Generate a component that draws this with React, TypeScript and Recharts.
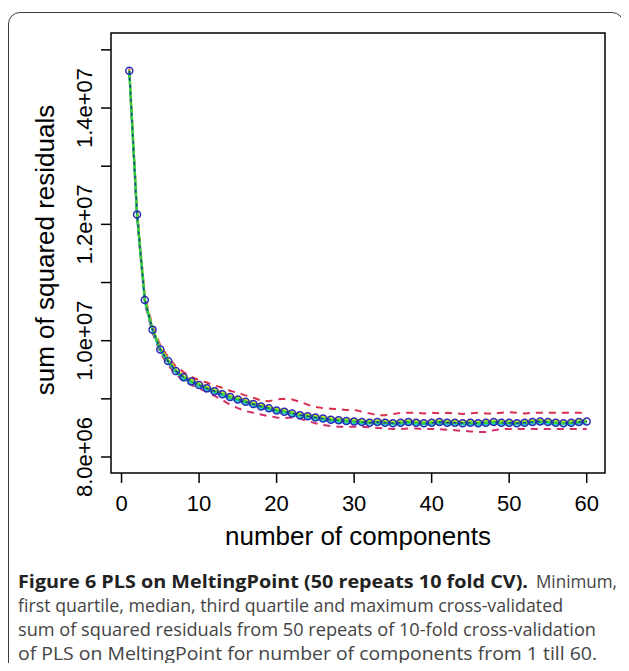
import { LineChart, Line, XAxis, YAxis, ReferenceArea, Label } from "recharts";

// number of PLS components
const components = [
  1, 2, 3, 4, 5, 6, 7, 8, 9, 10, 11, 12, 13, 14, 15, 16, 17, 18, 19, 20,
  21, 22, 23, 24, 25, 26, 27, 28, 29, 30, 31, 32, 33, 34, 35, 36, 37, 38, 39, 40,
  41, 42, 43, 44, 45, 46, 47, 48, 49, 50, 51, 52, 53, 54, 55, 56, 57, 58, 59, 60,
];

// cross-validated sum of squared residuals
const minimum = [
  14.6e6, 12.1e6, 10.64e6, 10.13e6, 9.79e6, 9.58e6, 9.42e6, 9.31e6, 9.24e6, 9.18e6,
  9.12e6, 9.05e6, 8.98e6, 8.9e6, 8.84e6, 8.79e6, 8.76e6, 8.73e6, 8.7e6, 8.68e6,
  8.67e6, 8.68e6, 8.66e6, 8.62e6, 8.58e6, 8.55e6, 8.53e6, 8.52e6, 8.52e6, 8.52e6,
  8.52e6, 8.51e6, 8.5e6, 8.49e6, 8.48e6, 8.48e6, 8.49e6, 8.49e6, 8.48e6, 8.48e6,
  8.48e6, 8.47e6, 8.46e6, 8.45e6, 8.44e6, 8.43e6, 8.43e6, 8.46e6, 8.48e6, 8.48e6,
  8.48e6, 8.48e6, 8.48e6, 8.48e6, 8.48e6, 8.48e6, 8.48e6, 8.48e6, 8.48e6, 8.48e6,
];
const firstQuartile = [
  14.62e6, 12.14e6, 10.67e6, 10.16e6, 9.82e6, 9.62e6, 9.45e6, 9.34e6, 9.27e6, 9.21e6,
  9.15e6, 9.1e6, 9.05e6, 9.0e6, 8.96e6, 8.92e6, 8.88e6, 8.84e6, 8.81e6, 8.77e6,
  8.75e6, 8.72e6, 8.69e6, 8.67e6, 8.65e6, 8.63e6, 8.61e6, 8.6e6, 8.59e6, 8.58e6,
  8.57e6, 8.57e6, 8.57e6, 8.56e6, 8.56e6, 8.56e6, 8.57e6, 8.56e6, 8.56e6, 8.56e6,
  8.57e6, 8.56e6, 8.56e6, 8.56e6, 8.56e6, 8.55e6, 8.56e6, 8.57e6, 8.56e6, 8.56e6,
  8.56e6, 8.56e6, 8.57e6, 8.58e6, 8.57e6, 8.56e6, 8.56e6, 8.56e6, 8.57e6, 8.58e6,
];
const median = [
  14.64e6, 12.17e6, 10.7e6, 10.19e6, 9.85e6, 9.65e6, 9.48e6, 9.37e6, 9.3e6, 9.24e6,
  9.18e6, 9.13e6, 9.08e6, 9.03e6, 8.99e6, 8.95e6, 8.91e6, 8.87e6, 8.84e6, 8.8e6,
  8.78e6, 8.75e6, 8.72e6, 8.7e6, 8.68e6, 8.66e6, 8.64e6, 8.63e6, 8.62e6, 8.61e6,
  8.6e6, 8.59e6, 8.6e6, 8.59e6, 8.58e6, 8.59e6, 8.6e6, 8.59e6, 8.58e6, 8.59e6,
  8.6e6, 8.59e6, 8.59e6, 8.58e6, 8.59e6, 8.58e6, 8.59e6, 8.6e6, 8.59e6, 8.59e6,
  8.58e6, 8.59e6, 8.6e6, 8.61e6, 8.6e6, 8.59e6, 8.58e6, 8.59e6, 8.6e6, 8.61e6,
];
const thirdQuartile = [
  14.66e6, 12.2e6, 10.73e6, 10.22e6, 9.88e6, 9.68e6, 9.51e6, 9.4e6, 9.33e6, 9.27e6,
  9.21e6, 9.16e6, 9.11e6, 9.06e6, 9.02e6, 8.98e6, 8.94e6, 8.9e6, 8.87e6, 8.83e6,
  8.81e6, 8.78e6, 8.75e6, 8.73e6, 8.71e6, 8.69e6, 8.67e6, 8.66e6, 8.65e6, 8.64e6,
  8.63e6, 8.62e6, 8.63e6, 8.62e6, 8.61e6, 8.62e6, 8.63e6, 8.62e6, 8.61e6, 8.62e6,
  8.63e6, 8.62e6, 8.62e6, 8.61e6, 8.62e6, 8.61e6, 8.62e6, 8.63e6, 8.62e6, 8.62e6,
  8.61e6, 8.62e6, 8.63e6, 8.64e6, 8.63e6, 8.62e6, 8.61e6, 8.62e6, 8.63e6, 8.64e6,
];
const maximum = [
  14.68e6, 12.25e6, 10.76e6, 10.25e6, 9.92e6, 9.72e6, 9.56e6, 9.46e6, 9.38e6, 9.32e6,
  9.28e6, 9.23e6, 9.19e6, 9.14e6, 9.1e6, 9.06e6, 9.02e6, 8.97e6, 8.96e6, 8.99e6,
  9.0e6, 8.99e6, 8.95e6, 8.9e6, 8.86e6, 8.84e6, 8.83e6, 8.82e6, 8.81e6, 8.81e6,
  8.78e6, 8.75e6, 8.72e6, 8.72e6, 8.74e6, 8.76e6, 8.76e6, 8.76e6, 8.75e6, 8.76e6,
  8.75e6, 8.76e6, 8.75e6, 8.74e6, 8.75e6, 8.76e6, 8.75e6, 8.75e6, 8.76e6, 8.77e6,
  8.76e6, 8.75e6, 8.76e6, 8.76e6, 8.76e6, 8.76e6, 8.76e6, 8.76e6, 8.76e6, 8.76e6,
];

const xTicks = [0, 10, 20, 30, 40, 50, 60];
const yTicks = [8e6, 9e6, 10e6, 11e6, 12e6, 13e6, 14e6, 15e6];
const yLabelled = [8e6, 10e6, 12e6, 14e6];

const data = components.map((n, i) => ({
  n,
  min: minimum[i],
  q1: firstQuartile[i],
  med: median[i],
  q3: thirdQuartile[i],
  max: maximum[i],
}));

const rFont = "'Liberation Sans', Arial, sans-serif";
const capFont = "'Open Sans', sans-serif";

const sci = (v: number) => {
  const e = Math.floor(Math.log10(v) + 1e-9);
  const m = v / Math.pow(10, e);
  return `${m.toFixed(1)}e+${String(e).padStart(2, "0")}`;
};

const XTick = ({ x, y, payload }: any) => (
  <text x={x} y={y + 26} textAnchor="middle" fontSize={22} fontFamily={rFont} fill="#000">
    {payload.value}
  </text>
);

const YTick = ({ y, payload }: any) => {
  if (!yLabelled.includes(payload.value)) return null;
  const cx = 92;
  return (
    <text
      x={cx}
      y={y}
      transform={`rotate(-90, ${cx}, ${y})`}
      textAnchor="middle"
      fontSize={22}
      fontFamily={rFont}
      fill="#000"
    >
      {sci(payload.value)}
    </text>
  );
};

const caption = [
  "first quartile, median, third quartile and maximum cross-validated",
  "sum of squared residuals from 50 repeats of 10-fold cross-validation",
  "of PLS on MeltingPoint for number of components from 1 till 60.",
];
const captionWidths = [545, 578, 579];

export default function App() {
  return (
    <div style={{ position: "relative", width: 629, height: 671, margin: -8, overflow: "hidden", background: "#fff" }}>
      <div
        style={{
          position: "absolute",
          left: 8,
          top: 12,
          width: 614,
          height: 700,
          border: "1.5px solid #3a3a3a",
          borderRadius: 12,
        }}
      />
      <div style={{ position: "absolute", left: 0, top: 0 }}>
        <LineChart width={629} height={560} data={data} margin={{ top: 33, right: 24, bottom: 0, left: 0 }}>
          <XAxis
            type="number"
            dataKey="n"
            domain={[-1.36, 62.36]}
            ticks={xTicks}
            allowDataOverflow
            axisLine={false}
            tickSize={10}
            tickLine={{ stroke: "#000", strokeWidth: 1.5 }}
            tick={<XTick />}
            height={87}
          >
            <Label
              content={() => (
                <text x={358} y={545} textAnchor="middle" fontSize={26} fontFamily={rFont} fill="#000">
                  number of components
                </text>
              )}
            />
          </XAxis>
          <YAxis
            type="number"
            domain={[7.725e6, 15.29e6]}
            ticks={yTicks}
            allowDataOverflow
            axisLine={false}
            tickSize={10}
            tickLine={{ stroke: "#000", strokeWidth: 1.5 }}
            tick={<YTick />}
            width={111}
          >
            <Label
              content={() => (
                <text
                  x={54}
                  y={250}
                  transform="rotate(-90, 54, 250)"
                  textAnchor="middle"
                  fontSize={26}
                  fontFamily={rFont}
                  fill="#000"
                >
                  sum of squared residuals
                </text>
              )}
            />
          </YAxis>
          <ReferenceArea
            x1={-1.36}
            x2={62.36}
            y1={7.725e6}
            y2={15.29e6}
            fill="none"
            stroke="#000"
            strokeWidth={1.5}
            ifOverflow="visible"
          />
          <Line dataKey="max" stroke="#d8304c" strokeWidth={2} strokeDasharray="7 6" dot={false} isAnimationActive={false} />
          <Line dataKey="min" stroke="#d0306a" strokeWidth={2} strokeDasharray="7 6" dot={false} isAnimationActive={false} />
          <Line dataKey="q3" stroke="#c8e820" strokeWidth={2} dot={false} isAnimationActive={false} />
          <Line dataKey="q1" stroke="#18c8d8" strokeWidth={2} dot={false} isAnimationActive={false} />
          <Line dataKey="med" stroke="#38d038" strokeWidth={2.5} dot={false} isAnimationActive={false} />
          <Line
            dataKey="med"
            stroke="#1c3c9c"
            strokeWidth={1.5}
            strokeDasharray="3 4"
            dot={{ r: 3.5, stroke: "#2a2ab8", strokeWidth: 1.5, fill: "none", strokeDasharray: "none" }}
            isAnimationActive={false}
          />
        </LineChart>
      </div>
      <svg width={629} height={671} style={{ position: "absolute", left: 0, top: 0 }}>
        <text
          x={18}
          y={588}
          fontSize={18.5}
          fontWeight="bold"
          fontFamily={capFont}
          fill="#222"
          textLength={510}
          lengthAdjust="spacingAndGlyphs"
        >
          Figure 6 PLS on MeltingPoint (50 repeats 10 fold CV).
        </text>
        <text x={536} y={588} fontSize={18.5} fontFamily={capFont} fill="#444" textLength={81} lengthAdjust="spacingAndGlyphs">
          Minimum,
        </text>
        {caption.map((line, i) => (
          <text
            key={i}
            x={18}
            y={612 + i * 24}
            fontSize={18.5}
            fontFamily={capFont}
            fill="#444"
            textLength={captionWidths[i]}
            lengthAdjust="spacingAndGlyphs"
          >
            {line}
          </text>
        ))}
      </svg>
    </div>
  );
}
